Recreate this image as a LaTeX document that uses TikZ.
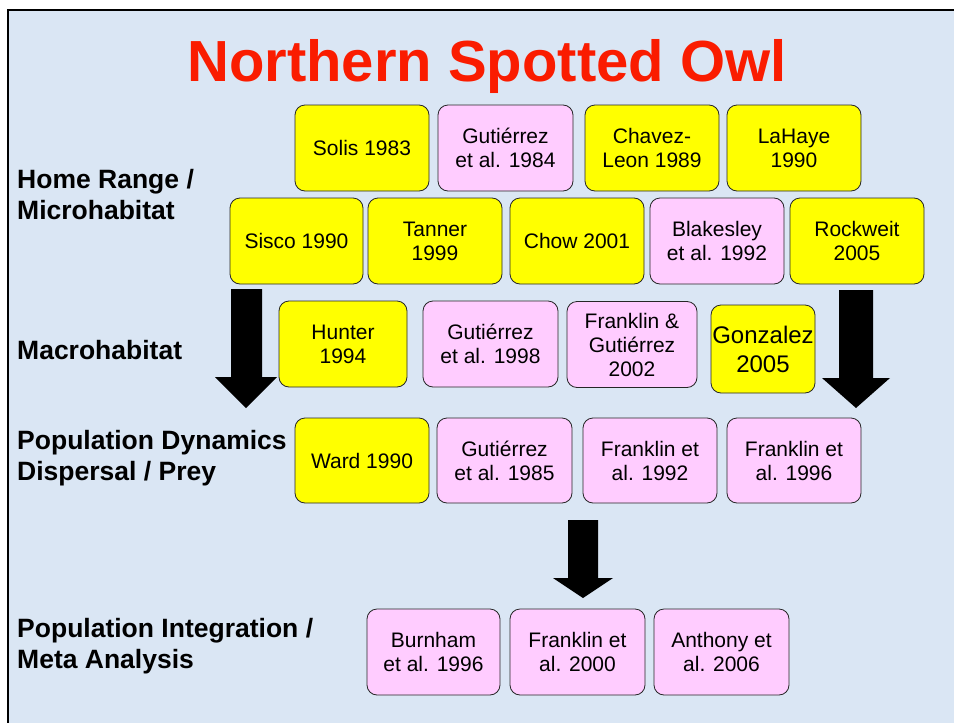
\documentclass[tikz,border=0pt]{standalone}
\usepackage{fontspec}
\setmainfont{Liberation Sans}
\definecolor{bgblue}{RGB}{218,230,244}
\definecolor{boxyellow}{RGB}{255,255,0}
\definecolor{boxpink}{RGB}{255,204,255}
\definecolor{titlered}{RGB}{250,28,0}
\begin{document}
\begin{tikzpicture}[x=1pt,y=-1pt,
  refbox/.style={draw=black!85,line width=0.8pt,rounded corners=10pt,align=center,
    inner sep=0pt,font=\fontsize{21}{24}\selectfont,text=black},
  ybox/.style={refbox,fill=boxyellow},
  pbox/.style={refbox,fill=boxpink},
  rowlabel/.style={anchor=base west,align=left,inner sep=0pt,
    font=\fontsize{26.5}{31}\selectfont\bfseries},
  blockarrow/.style={fill=black,draw=none}]
\useasboundingbox (0,0) rectangle (954,723);
% background and frame
\fill[white] (0,0) rectangle (954,723);
\fill[bgblue] (8,10) rectangle (960,730);
\draw[line width=2.5pt,black] (8,730) -- (8,10) -- (960,10);
% title
\node[font=\fontsize{58}{60}\selectfont\bfseries,text=titlered,anchor=base,inner sep=0pt] (title) at (487,81) {Northern Spotted Owl};
% row labels (base anchor = last line)
\node[rowlabel] (lhome) at (17,219) {Home Range /\\Microhabitat};
\node[rowlabel] (lmacro) at (17,359) {Macrohabitat};
\node[rowlabel] (lpop) at (17,480) {Population Dynamics\\Dispersal / Prey};
\node[rowlabel] (lint) at (17,668) {Population Integration /\\Meta Analysis};
% row 1
\node[ybox,minimum width=134,minimum height=86] (solis) at (362,148) {Solis 1983};
\node[pbox,minimum width=135,minimum height=86] (gut84) at (505.5,148) {Gutiérrez\\et al. 1984};
\node[ybox,minimum width=134,minimum height=86] (chavez) at (652,148) {Chavez-\\Leon 1989};
\node[ybox,minimum width=134,minimum height=86] (lahaye) at (794,148) {LaHaye\\1990};
% row 2
\node[ybox,minimum width=133,minimum height=86] (sisco) at (296.5,241) {Sisco 1990};
\node[ybox,minimum width=134,minimum height=86] (tanner) at (435,241) {Tanner\\1999};
\node[ybox,minimum width=134,minimum height=86] (chow) at (577,241) {Chow 2001};
\node[pbox,minimum width=134,minimum height=86] (blakesley) at (717,241) {Blakesley\\et al. 1992};
\node[ybox,minimum width=134,minimum height=86] (rockweit) at (857,241) {Rockweit\\2005};
% row 3
\node[ybox,minimum width=128,minimum height=86] (hunter) at (343,344) {Hunter\\1994};
\node[pbox,minimum width=135,minimum height=86] (gut98) at (490.5,344) {Gutiérrez\\et al. 1998};
\node[pbox,minimum width=130,minimum height=86] (frgut) at (632,344.5) {Franklin \&\\Gutiérrez\\2002};
\node[ybox,minimum width=104,minimum height=88,font=\fontsize{24}{29}\selectfont] (gonzalez) at (763,349) {Gonzalez\\2005};
% row 4
\node[ybox,minimum width=134,minimum height=85] (ward) at (362,460.5) {Ward 1990};
\node[pbox,minimum width=135,minimum height=85] (gut85) at (504.5,460.5) {Gutiérrez\\et al. 1985};
\node[pbox,minimum width=134,minimum height=85] (fr92) at (650,460.5) {Franklin et\\al. 1992};
\node[pbox,minimum width=134,minimum height=85] (fr96) at (794,460.5) {Franklin et\\al. 1996};
% row 5
\node[pbox,minimum width=133,minimum height=86] (burnham) at (433.5,652) {Burnham\\et al. 1996};
\node[pbox,minimum width=135,minimum height=86] (fr00) at (577.5,652) {Franklin et\\al. 2000};
\node[pbox,minimum width=135,minimum height=86] (anthony) at (721.5,652) {Anthony et\\al. 2006};
% block arrows
\fill[blockarrow] (231,289) -- (262,289) -- (262,377) -- (277,377) -- (246,408) -- (215,377) -- (231,377) -- cycle;
\fill[blockarrow] (839,290) -- (873,290) -- (873,378) -- (890,378) -- (856,408) -- (822,378) -- (839,378) -- cycle;
\fill[blockarrow] (568,520) -- (598,520) -- (598,578) -- (613,578) -- (583,598) -- (553,578) -- (568,578) -- cycle;
\end{tikzpicture}
\end{document}
